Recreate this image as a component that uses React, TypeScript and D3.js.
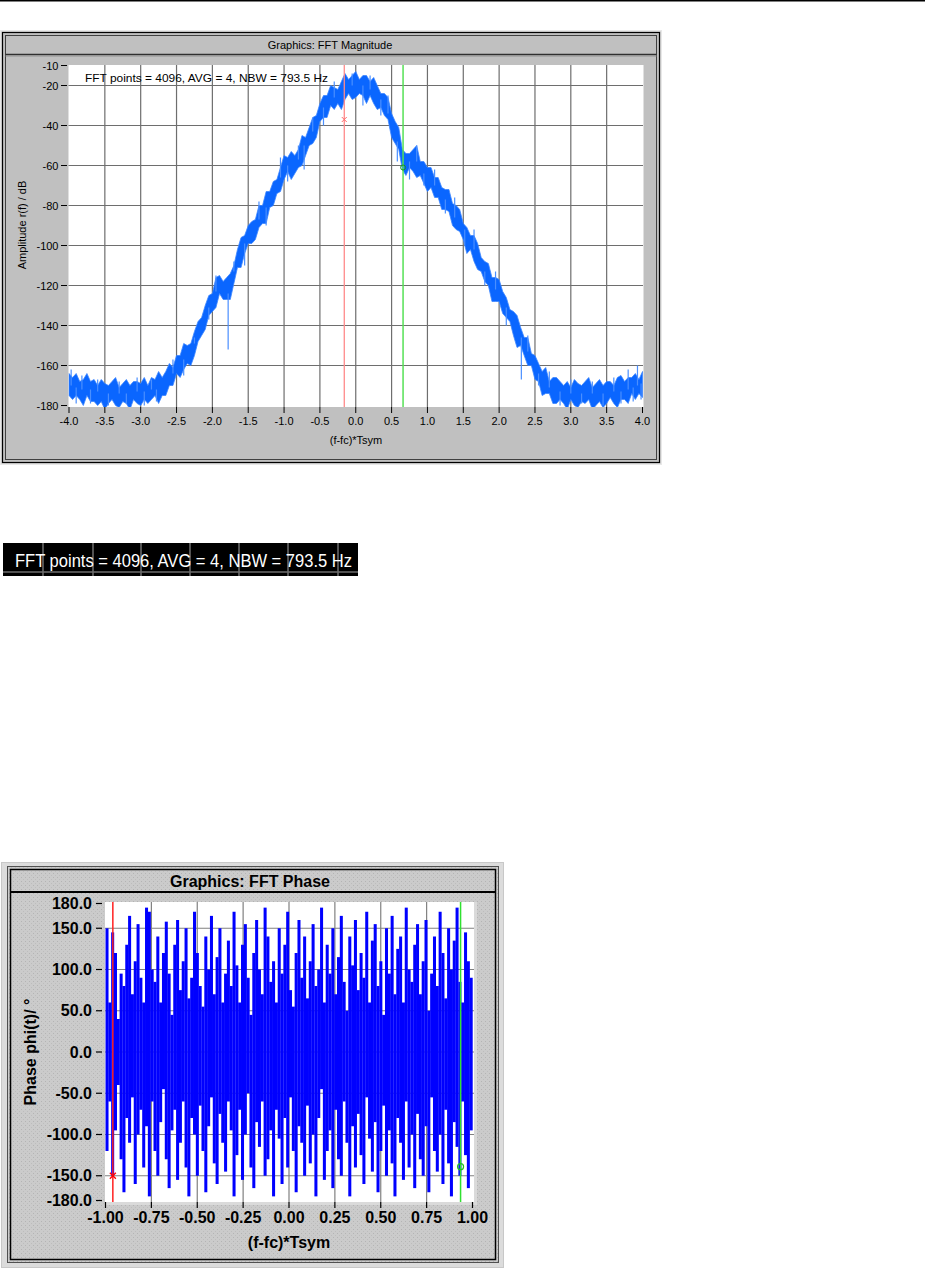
import React from 'react';
import * as d3 from 'd3';

// ---------- FFT Magnitude data ----------
const magStart = -4.0;
const magStep = 0.05;
const magCenter = [
  -170, -170, -171, -171, -172, -172, -172, -173, -173, -174, -174, -174, -174, -174, -174, -174, -174, -174, -174, -173,
  -173, -173, -173, -172, -172, -171, -170, -168, -166, -164, -161, -159, -157, -155, -152, -149, -145, -140, -135, -131,
  -127, -123, -120, -122, -124, -120, -113, -107, -103, -99, -96, -93, -90, -87, -84, -81, -78, -74, -70, -66,
  -62, -60, -59, -58, -57, -53, -50, -47, -43, -38, -34, -31, -29, -27, -26, -25, -24, -22, -21, -20,
  -20, -20, -20, -21, -22, -23, -25, -27, -30, -34, -38, -43, -48, -55, -60, -58, -57, -58, -61, -64,
  -66, -68, -70, -72, -74, -77, -80, -83, -86, -89, -92, -96, -99, -102, -105, -109, -113, -117, -120, -122,
  -124, -127, -131, -135, -139, -143, -146, -150, -153, -157, -161, -164, -167, -169, -171, -172, -173, -173, -174, -174,
  -174, -174, -174, -174, -174, -174, -174, -174, -174, -174, -174, -173, -173, -173, -173, -172, -172, -171, -171, -170,
  -169,
];
const magUp = [
  6, 4, 7, 3, 5, 8, 4, 6, 3, 7, 5, 4, 6, 8, 3, 5, 7, 4, 6, 5,
  4, 7, 3, 6, 5, 8, 4, 5, 7, 3, 6, 4, 8, 5, 3, 6, 7, 4, 5, 6,
  3, 7, 5, 4, 8, 6, 3, 5, 7, 4, 6, 5, 3, 7, 4, 8, 5, 6, 3, 5,
  7, 4, 6, 3, 5, 8, 4, 6, 7, 3, 5, 6, 4, 7, 5, 3, 6, 8, 4, 5,
  7, 3, 5, 6, 4, 7, 5, 3, 6, 8, 4, 5, 7, 3, 6, 4, 5, 8, 3, 6,
  5, 7, 4, 6, 3, 5, 8, 4, 6, 7, 3, 5, 4, 7, 6, 3, 5, 8, 4, 6,
  7, 4, 5, 3, 6, 8, 5, 4, 7, 3, 6, 5, 4, 8, 3, 6, 7, 5, 4, 6,
  3, 7, 5, 4, 6, 8, 3, 5, 7, 4, 6, 5, 3, 7, 8, 4, 6, 5, 7, 3,
  6,
];
const magDown = [
  5, 7, 4, 6, 8, 3, 6, 5, 7, 4, 8, 5, 3, 6, 7, 4, 5, 8, 3, 6,
  7, 4, 6, 5, 3, 8, 5, 7, 4, 6, 3, 7, 5, 4, 8, 6, 3, 5, 7, 4,
  6, 8, 4, 5, 3, 7, 6, 4, 8, 5, 3, 6, 7, 4, 5, 8, 3, 6, 4, 7,
  5, 3, 8, 6, 4, 7, 5, 3, 6, 8, 4, 5, 7, 3, 6, 4, 8, 5, 3, 7,
  6, 4, 5, 8, 3, 6, 7, 4, 5, 3, 8, 6, 4, 7, 5, 3, 6, 8, 4, 5,
  7, 3, 6, 4, 8, 5, 3, 7, 6, 4, 5, 8, 3, 6, 7, 4, 5, 3, 8, 6,
  4, 7, 5, 3, 6, 8, 4, 5, 7, 3, 6, 4, 8, 5, 3, 7, 6, 4, 5, 8,
  3, 6, 7, 4, 5, 3, 8, 6, 4, 7, 5, 3, 6, 8, 4, 5, 7, 3, 6, 4,
  7,
];
const magSpikes: [number, number][] = [
  [-3.97, -162], [-3.9, -179], [-3.82, -165], [-3.7, -179], [-3.6, -167], [-3.45, -180],
  [-3.3, -168], [-3.2, -179], [-3.05, -166], [-2.95, -180], [-2.85, -167], [-2.78, -178],
  [-2.55, -157], [-2.4, -165], [-2.25, -146], [-2.05, -137], [-1.95, -115], [-1.78, -152],
  [-1.7, -108], [-1.55, -110], [-1.35, -78], [-1.25, -90], [-1.05, -56], [-0.95, -68],
  [-0.8, -50], [-0.72, -62], [-0.6, -36], [-0.45, -40], [-0.3, -18], [-0.05, -14],
  [0.1, -30], [0.2, -15], [0.35, -35], [0.45, -25], [0.58, -58], [0.75, -67], [0.85, -50],
  [0.95, -70], [1.1, -62], [1.25, -84], [1.38, -76], [1.52, -100], [1.65, -92], [1.8, -120],
  [1.95, -113], [2.1, -140], [2.31, -167], [2.4, -145], [2.55, -170], [2.7, -163],
  [2.85, -180], [3.0, -167], [3.15, -179], [3.3, -168], [3.45, -180], [3.6, -166],
  [3.7, -179], [3.8, -162], [3.87, -178], [3.93, -160], [3.98, -177],
];
const magXTicks = [-4.0, -3.5, -3.0, -2.5, -2.0, -1.5, -1.0, -0.5, 0.0, 0.5, 1.0, 1.5, 2.0, 2.5, 3.0, 3.5, 4.0];
const magYTicks = [-10, -20, -40, -60, -80, -100, -120, -140, -160, -180];
const magYGrid = [-20, -40, -60, -80, -100, -120, -140, -160];
const magMarkerRed: [number, number] = [-0.16, -37];
const magMarkerGreen: [number, number] = [0.66, -61];
const magInfo = 'FFT points = 4096, AVG = 4, NBW = 793.5 Hz';

// ---------- FFT Phase data ----------
const phaseHigh = [
  150, 60, 145, 120, 40, 95, 80, 130, 165, 70, 110, 155, 90, 60, 175, 170, 100, 85, 140, 60,
  120, 158, 95, 45, 130, 160, 75, 110, 150, 65, 90, 170, 120, 80, 55, 140, 100, 165, 70, 115,
  150, 60, 95, 135, 80, 170, 105, 60, 130, 155, 90, 45, 120, 160, 100, 70, 175, 140, 85, 110,
  60, 150, 95, 130, 170, 75, 55, 120, 160, 90, 140, 65, 110, 155, 80, 100, 175, 60, 130, 95,
  150, 70, 115, 165, 85, 50, 140, 105, 160, 75, 120, 90, 170, 60, 135, 155, 80, 110, 45, 150,
  95, 165, 70, 125, 140, 60, 175, 100, 85, 130, 155, 70, 110, 160, 50, 95, 140, 80, 170, 120,
  65, 150, 100, 135, 175, 85, 60, 145, 110, 90,
];
const phaseLow = [
  -120, -60, -150, -95, -40, -130, -170, -80, -110, -55, -160, -100, -70, -140, -90, -175, -60, -120, -150, -85,
  -45, -130, -165, -95, -70, -155, -110, -60, -140, -175, -80, -100, -150, -65, -120, -170, -90, -55, -135, -160,
  -75, -110, -145, -60, -95, -175, -125, -70, -155, -100, -50, -140, -165, -85, -115, -60, -150, -130, -95, -175,
  -70, -105, -160, -80, -140, -55, -120, -170, -90, -110, -150, -65, -135, -100, -175, -80, -45, -155, -120, -95,
  -165, -70, -130, -150, -60, -110, -175, -90, -140, -75, -125, -160, -55, -105, -145, -85, -170, -120, -65, -150,
  -95, -135, -175, -80, -110, -155, -60, -140, -100, -165, -75, -130, -150, -90, -170, -55, -120, -145, -100, -160,
  -70, -135, -175, -85, -115, -150, -60, -125, -165, -95,
];
const phXTicks = [-1.0, -0.75, -0.5, -0.25, 0.0, 0.25, 0.5, 0.75, 1.0];
const phYTicks = [180, 150, 100, 50, 0, -50, -100, -150, -180];
const phYGrid = [150, 100, 50, 0, -50, -100, -150];
const phMarkerRed: [number, number] = [-0.96, -150];
const phMarkerGreen: [number, number] = [0.935, -139];

const SANS = '"Liberation Sans", Arial, sans-serif';

export default function App() {
  // magnitude scales
  const mx = d3.scaleLinear().domain([-4, 4]).range([69, 642.5]);
  const my = d3.scaleLinear().domain([-180, -10]).range([405.5, 65.5]);
  const magF = magCenter.map((_, i) => magStart + i * magStep);
  const area = d3
    .area<number>()
    .x((_, i) => mx(magF[i]))
    .y0((d, i) => my(d - magDown[i]))
    .y1((d, i) => my(d + magUp[i]));
  const centerAt = (f: number) => {
    const i = Math.max(0, Math.min(magCenter.length - 1, Math.round((f - magStart) / magStep)));
    return magCenter[i];
  };

  // phase scales
  const px = d3.scaleLinear().domain([-1, 1]).range([105.5, 472.5]);
  const py = d3.scaleLinear().domain([-180, 180]).range([1200.5, 903.5]);
  const n = phaseHigh.length;
  const pitch = px(-1 + 2 / n) - px(-1);

  const fmt1 = d3.format('.1f');
  const fmt2 = d3.format('.2f');
  const minus = (s: string) => s.replace('\u2212', '-');

  return (
    <svg
      width={925}
      height={1269}
      style={{ position: 'absolute', left: 0, top: 0, background: '#fff' }}
      fontFamily={SANS}
    >
      <defs>
        <pattern id="dots" width="4" height="4" patternUnits="userSpaceOnUse">
          <rect width="4" height="4" fill="#cbcbcb" />
          <rect x="1" y="1" width="1" height="1" fill="#b4b4b4" />
          <rect x="3" y="3" width="1" height="1" fill="#bdbdbd" />
        </pattern>
        <clipPath id="magClip">
          <rect x={68.5} y={65} width={575} height={342} />
        </clipPath>
        <clipPath id="phClip">
          <rect x={105} y={902} width={369} height={300} />
        </clipPath>
      </defs>

      {/* page top rule */}
      <rect x={0} y={0} width={925} height={1.5} fill="#000" />

      {/* ================= FFT Magnitude ================= */}
      <rect x={0.5} y={30.5} width={661} height={434} fill="#d8d8d8" stroke="#e8e8e8" />
      <rect x={2.5} y={32.5} width={657} height={430} fill="#c0c0c0" stroke="#000" strokeWidth={1.2} />
      <rect x={5.5} y={35.5} width={651} height={424} fill="none" stroke="#404040" strokeWidth={1} />
      <line x1={5.5} x2={656.5} y1={54.5} y2={54.5} stroke="#303030" strokeWidth={1.5} />
      <line x1={5.5} x2={656.5} y1={56} y2={56} stroke="#909090" strokeWidth={1} />
      <text x={330} y={49} fontSize={11} textAnchor="middle" fill="#000">
        Graphics: FFT Magnitude
      </text>

      <rect x={68.5} y={65} width={575} height={342} fill="#fff" />
      {/* grid */}
      {magXTicks.slice(1, -1).map((t) => (
        <line key={'mgx' + t} x1={mx(t)} x2={mx(t)} y1={65} y2={407} stroke="#6e6e6e" strokeWidth={1.2} />
      ))}
      {magYGrid.map((t) => (
        <line key={'mgy' + t} x1={68.5} x2={643} y1={my(t)} y2={my(t)} stroke="#6e6e6e" strokeWidth={1.2} />
      ))}
      {/* ticks */}
      {magXTicks.map((t) => (
        <g key={'mxt' + t}>
          <line x1={mx(t)} x2={mx(t)} y1={407} y2={413} stroke="#000" strokeWidth={1} />
          <text x={mx(t)} y={425} fontSize={11} textAnchor="middle" fill="#000">
            {minus(fmt1(t))}
          </text>
        </g>
      ))}
      {magYTicks.map((t) => (
        <g key={'myt' + t}>
          <line x1={61} x2={67} y1={my(t)} y2={my(t)} stroke="#000" strokeWidth={1} />
          <text x={58.5} y={my(t) + 4} fontSize={11} textAnchor="end" fill="#000">
            {minus(String(t))}
          </text>
        </g>
      ))}
      <text x={356} y={444} fontSize={11} textAnchor="middle" fill="#000">
        (f-fc)*Tsym
      </text>
      <text
        transform="translate(26,225) rotate(-90)"
        fontSize={11}
        textAnchor="middle"
        fill="#000"
      >
        Amplitude r(f) / dB
      </text>
      <text x={85} y={82} fontSize={11.5} fill="#000" textLength={243} lengthAdjust="spacingAndGlyphs">
        {magInfo}
      </text>

      {/* trace */}
      <g clipPath="url(#magClip)">
        <path d={area(magCenter) || ''} fill="#0a66ff" stroke="#3d86ff" strokeWidth={0.8} />
        {magSpikes.map(([f, v], i) => (
          <line
            key={'sp' + i}
            x1={mx(f)}
            x2={mx(f)}
            y1={my(centerAt(f))}
            y2={my(v)}
            stroke="#4a8fff"
            strokeWidth={1.2}
          />
        ))}
        <line x1={mx(magMarkerRed[0])} x2={mx(magMarkerRed[0])} y1={65} y2={407} stroke="#ff8a8a" strokeWidth={1.3} />
        <line x1={mx(magMarkerGreen[0])} x2={mx(magMarkerGreen[0])} y1={65} y2={407} stroke="#55e055" strokeWidth={1.5} />
        <g stroke="#ff6a6a" strokeWidth={1}>
          <line x1={mx(magMarkerRed[0]) - 2.5} x2={mx(magMarkerRed[0]) + 2.5} y1={my(magMarkerRed[1]) - 2.5} y2={my(magMarkerRed[1]) + 2.5} />
          <line x1={mx(magMarkerRed[0]) - 2.5} x2={mx(magMarkerRed[0]) + 2.5} y1={my(magMarkerRed[1]) + 2.5} y2={my(magMarkerRed[1]) - 2.5} />
        </g>
        <circle cx={mx(magMarkerGreen[0])} cy={my(magMarkerGreen[1])} r={2.5} fill="none" stroke="#1a9a1a" strokeWidth={1} />
      </g>

      {/* ================= zoomed info strip ================= */}
      <rect x={3} y={543} width={355} height={33} fill="#000" />
      {[43, 93, 141, 190, 239, 288, 338].map((x) => (
        <line key={'sv' + x} x1={x} x2={x} y1={543} y2={576} stroke="#6e6e6e" strokeWidth={1.5} />
      ))}
      <line x1={3} x2={358} y1={572} y2={572} stroke="#6e6e6e" strokeWidth={1.5} />
      <text x={15} y={567} fontSize={19} fill="#fff" textLength={337} lengthAdjust="spacingAndGlyphs">
        {magInfo}
      </text>

      {/* ================= FFT Phase ================= */}
      <rect x={1.5} y={862.5} width={502} height={405} fill="#dcdcdc" stroke="#c8c8c8" />
      <rect x={7.5} y={866.5} width={491} height={396} fill="url(#dots)" stroke="#505050" strokeWidth={1} />
      <rect x={10.5} y={869.5} width={485} height={390} fill="none" stroke="#000" strokeWidth={1.5} />
      <line x1={10.5} x2={495.5} y1={892} y2={892} stroke="#000" strokeWidth={1.8} />
      <text x={250} y={887} fontSize={16} fontWeight="bold" textAnchor="middle" fill="#000">
        Graphics: FFT Phase
      </text>

      <rect x={105} y={902} width={369} height={300} fill="#fff" />
      <rect x={474} y={902} width={3} height={303} fill="#dadada" />
      <rect x={105} y={1202} width={372} height={3} fill="#dadada" />
      {phXTicks.slice(1, -1).map((t) => (
        <line key={'pgx' + t} x1={px(t)} x2={px(t)} y1={902} y2={1202} stroke="#808080" strokeWidth={1.2} />
      ))}
      {phYGrid.map((t) => (
        <line key={'pgy' + t} x1={105} x2={474} y1={py(t)} y2={py(t)} stroke="#808080" strokeWidth={1.2} />
      ))}
      <g clipPath="url(#phClip)">
        {phaseHigh.map((h, i) => {
          const x0 = px(-1 + (2 * i) / n);
          return (
            <rect
              key={'pc' + i}
              x={x0}
              y={py(h)}
              width={pitch + 0.2}
              height={py(phaseLow[i]) - py(h)}
              fill="#0000ff"
            />
          );
        })}
        <line x1={px(phMarkerRed[0])} x2={px(phMarkerRed[0])} y1={902} y2={1202} stroke="#ff2020" strokeWidth={1.5} />
        <line x1={px(phMarkerGreen[0])} x2={px(phMarkerGreen[0])} y1={902} y2={1202} stroke="#30e030" strokeWidth={1.5} />
        <g stroke="#ff0000" strokeWidth={1.3}>
          <line x1={px(phMarkerRed[0]) - 3} x2={px(phMarkerRed[0]) + 3} y1={py(phMarkerRed[1]) - 3} y2={py(phMarkerRed[1]) + 3} />
          <line x1={px(phMarkerRed[0]) - 3} x2={px(phMarkerRed[0]) + 3} y1={py(phMarkerRed[1]) + 3} y2={py(phMarkerRed[1]) - 3} />
        </g>
        <circle cx={px(phMarkerGreen[0])} cy={py(phMarkerGreen[1])} r={3} fill="none" stroke="#20c020" strokeWidth={1.2} />
      </g>
      {phXTicks.map((t) => (
        <g key={'pxt' + t}>
          <line x1={px(t)} x2={px(t)} y1={1202} y2={1208} stroke="#000" strokeWidth={1.2} />
          <text x={px(t)} y={1223} fontSize={16} fontWeight="bold" textAnchor="middle" fill="#000">
            {minus(fmt2(t))}
          </text>
        </g>
      ))}
      {phYTicks.map((t) => (
        <g key={'pyt' + t}>
          <line x1={96} x2={102} y1={py(t)} y2={py(t)} stroke="#000" strokeWidth={1.2} />
          <text x={92} y={py(t) + 5.5} fontSize={16} fontWeight="bold" textAnchor="end" fill="#000">
            {minus(fmt1(t))}
          </text>
        </g>
      ))}
      <text x={289} y={1248} fontSize={16} fontWeight="bold" textAnchor="middle" fill="#000">
        (f-fc)*Tsym
      </text>
      <text
        transform="translate(36,1052) rotate(-90)"
        fontSize={16}
        fontWeight="bold"
        textAnchor="middle"
        fill="#000"
      >
        Phase phi(t)/ °
      </text>
    </svg>
  );
}
